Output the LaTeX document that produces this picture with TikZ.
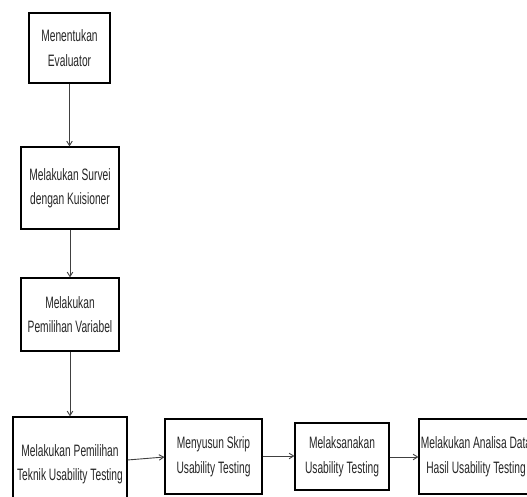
\documentclass[tikz,border=0pt]{standalone}
\usepackage{fontspec}
\setmainfont[FakeStretch=0.62]{Liberation Sans}
\usetikzlibrary{arrows.meta}
\begin{document}
\begin{tikzpicture}[x=1pt,y=1pt,
  box/.style={draw=black,line width=1.1pt,rectangle,inner sep=0pt,align=center,
    text=black!85,font=\fontsize{16.5}{24.5}\selectfont},
  arr/.style={draw=black!75,line width=0.9pt,-{Straight Barb[length=4.5pt,width=5.5pt]}}]
\useasboundingbox (0,0) rectangle (527,497);
\fill[white] (0,0) rectangle (527,497);
\clip (0,0) rectangle (527,497);
\node[box,minimum width=81pt,minimum height=70pt] (b1) at (69.5,449) {Menentukan\\Evaluator};
\node[box,minimum width=98pt,minimum height=82pt] (b2) at (70,309) {Melakukan Survei\\dengan Kuisioner};
\node[box,minimum width=98pt,minimum height=73pt] (b3) at (70,182.5) {Melakukan\\Pemilihan Variabel};
\node[box,minimum width=114pt,minimum height=94pt] (b4) at (70,33) {Melakukan Pemilihan\\Teknik Usability Testing};
\node[box,minimum width=97pt,minimum height=75pt] (b5) at (213.5,40.5) {Menyusun Skrip\\Usability Testing};
\node[box,minimum width=94pt,minimum height=67pt] (b6) at (342,40.5) {Melaksanakan\\Usability Testing};
\node[box,minimum width=114pt,minimum height=75pt] (b7) at (476,40.5) {Melakukan Analisa Data\\Hasil Usability Testing};
\draw[arr] (b1.south) -- (b1.south |- b2.north);
\draw[arr] (b2.south) -- (b3.north);
\draw[arr] (b3.south) -- (b4.north);
\draw[arr] (b4.east |- 0,37) -- (b5.west |- 0,40);
\draw[arr] (b5.east |- 0,41) -- (b6.west |- 0,41);
\draw[arr] (b6.east |- 0,40) -- (b7.west |- 0,40);
\end{tikzpicture}
\end{document}
